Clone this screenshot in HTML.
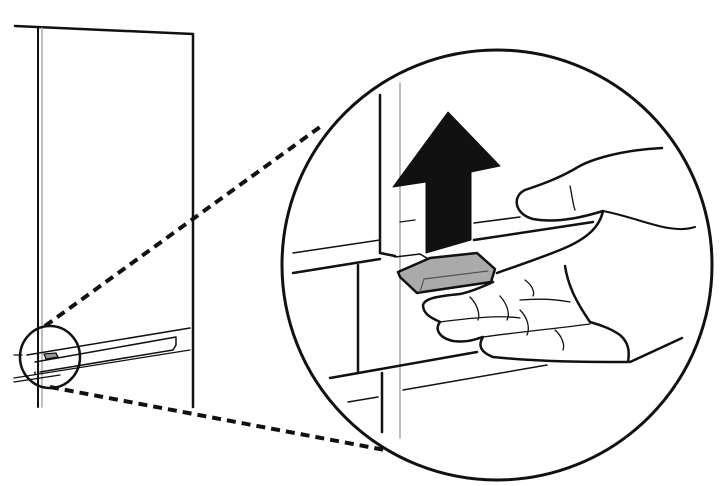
<!DOCTYPE html>
<html><head><meta charset="utf-8"><style>html,body{margin:0;padding:0;background:#fff}svg{display:block}</style></head>
<body>
<svg width="721" height="486" viewBox="0 0 721 486" xmlns="http://www.w3.org/2000/svg" fill="none" stroke="#111" stroke-linecap="round" stroke-linejoin="round">
<!-- fridge -->
<path d="M15 26 L193 34 L193 407" stroke-width="2.5"/>
<path d="M38 28 L38 407" stroke-width="2"/>
<path d="M42 28 L42 407" stroke="#aaa" stroke-width="1.5"/>
<!-- shelf / door lines small -->
<path d="M27 355 L190 328" stroke-width="1.5"/>
<path d="M35 362 L176 337 L176 345 L173 350 L40 372" stroke-width="1.5"/>
<path d="M35 372 L35 374" stroke-width="1.5"/>
<path d="M14 378 L190 350" stroke-width="1.3"/>
<path d="M14 382 L60 375" stroke-width="1.3"/>
<path d="M14 355 L22 355" stroke-width="1.3"/>
<path d="M44 354 L56 353 L58 357 L46 359 Z" fill="#999" stroke-width="1.3"/>
<!-- small circle -->
<ellipse cx="50" cy="357" rx="30" ry="31" stroke-width="2.5"/>
<!-- dashed connectors -->
<path d="M45 326 L320 127" stroke-width="4" stroke-dasharray="9 6" stroke-linecap="butt"/>
<path d="M50 387 L385 450" stroke-width="4" stroke-dasharray="9 6" stroke-linecap="butt"/>
<!-- big circle -->
<circle cx="497" cy="265" r="215" fill="#fff" stroke-width="3"/>
<!-- inside -->
<path d="M400 83 L400 438" stroke="#999" stroke-width="1.3"/>
<path d="M380 95 L380 253 L395 256" stroke-width="2.5"/>
<path d="M382 373 L382 432" stroke-width="2.5"/>
<path d="M358 265 L358 373" stroke-width="2.5"/>
<path d="M293 253 L380 240" stroke-width="1.5"/>
<path d="M293 273 L380 259" stroke-width="2.5"/>
<path d="M474 240 L593 222" stroke-width="2.5"/>
<path d="M474 223 L520 217" stroke-width="1.5"/>
<path d="M400 222 L415 220" stroke-width="1.3"/>
<path d="M330 378 L477 352" stroke-width="2.5"/>
<path d="M403 390 L547 365" stroke-width="1.5"/>
<path d="M348 402 L378 397" stroke-width="1.5"/>
<path d="M630 362 L682 338" stroke-width="2.5"/>
<!-- arrow -->
<path d="M448 112 L500 166 L471 172 L471 240 L426 253 L426 182 L393 187 Z" fill="#111" stroke-width="1"/>
<!-- tab -->
<path d="M395 257 L420 254 L430 260" stroke-width="1.5"/>
<path d="M430 258 L477 253 L495 269 L491 282 L423 292 L417 293 L400 277 L398 272 Z" fill="#aaa" stroke-width="2.5"/>
<path d="M420 292 L424 279 L488 271" stroke="#555" stroke-width="1.2"/>
<!-- hand -->
<path d="M662 148 C620 150 590 160 578 167 C560 178 540 185 525 190 C512 196 514 214 533 219 C560 224 590 215 603 211 C600 225 590 238 560 250 C530 262 510 268 497 273" stroke-width="2.5"/>
<path d="M603 211 C640 218 670 235 695 227" stroke-width="2"/>
<path d="M570 186 C572 195 573 205 575 210" stroke-width="1.3"/>
<path d="M493 282 C480 288 470 292 460 294 C440 296 423 298 423 306 C424 315 432 318 440 322 C434 330 440 338 453 341 C470 343 478 338 483 337 C478 345 480 352 493 357 C540 362 590 362 628 362 C630 350 628 342 620 335 C610 328 600 325 590 322 C575 300 568 285 565 266" stroke-width="2.5"/>
<path d="M440 322 C470 318 500 315 520 318" stroke-width="1.3"/>
<path d="M483 337 C520 332 560 328 590 324" stroke-width="1.3"/>
<path d="M520 300 C545 298 560 300 570 302" stroke-width="1.3"/>
<path d="M470 297 C478 305 480 315 478 320" stroke-width="1.3"/>
<path d="M500 296 C508 305 510 315 507 320" stroke-width="1.3"/>
<path d="M520 310 C528 318 530 328 527 335" stroke-width="1.3"/>
<path d="M555 330 C562 336 565 345 563 350" stroke-width="1.3"/>
<path d="M525 280 C532 285 535 292 533 296" stroke-width="1.3"/>
</svg>
</body></html>
